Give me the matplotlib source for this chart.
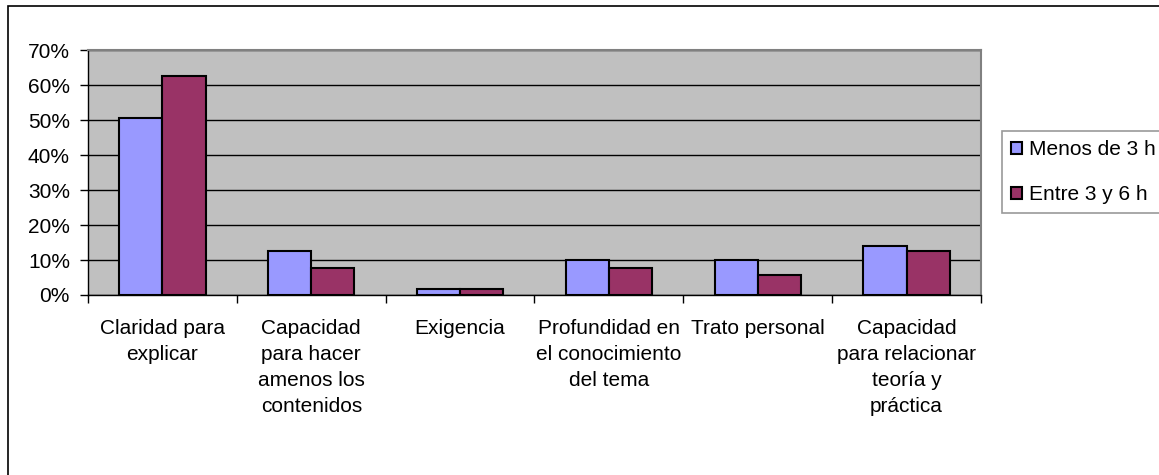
import matplotlib.pyplot as plt
from matplotlib.patches import Patch, Rectangle
from matplotlib.ticker import PercentFormatter, MultipleLocator
import numpy as np

plt.rcParams['font.family'] = ['Liberation Sans', 'DejaVu Sans']
fs = 15

# Data
categorias = [
    "Claridad para\nexplicar",
    "Capacidad\npara hacer\namenos los\ncontenidos",
    "Exigencia",
    "Profundidad en\nel conocimiento\ndel tema",
    "Trato personal",
    "Capacidad\npara relacionar\nteoría y\npráctica",
]
series = ["Menos de 3 h", "Entre 3 y 6 h"]
menos_3h = [0.506, 0.127, 0.018, 0.101, 0.101, 0.139]
entre_3_6h = [0.627, 0.076, 0.018, 0.076, 0.057, 0.127]

col_blue = '#9999FF'
col_red = '#993366'

fig = plt.figure(figsize=(11.59, 4.75), dpi=100)
ax = fig.add_axes([88 / 1159, 1 - 295 / 475, (981 - 88) / 1159, (295 - 50.5) / 475])

# frame around the chart (only top and left visible in the picture)
fig.patches.append(Rectangle((8 / 1159, -0.05), 1.2, 1 - 6 / 475 + 0.05,
                             transform=fig.transFigure, fill=False,
                             edgecolor='black', linewidth=1.2))

x = np.arange(len(categorias))
w = 0.29
ax.bar(x - w / 2, menos_3h, w, color=col_blue, edgecolor='black', linewidth=1.5, zorder=3)
ax.bar(x + w / 2, entre_3_6h, w, color=col_red, edgecolor='black', linewidth=1.5, zorder=3)

ax.set_facecolor('#C0C0C0')
ax.set_xlim(-0.5, len(categorias) - 0.5)
ax.set_ylim(0, 0.7)
ax.yaxis.set_major_locator(MultipleLocator(0.1))
ax.yaxis.set_major_formatter(PercentFormatter(1, decimals=0))
ax.grid(axis='y', color='black', linewidth=1, zorder=1)

ax.set_xticks(x)
ax.set_xticklabels(categorias, fontsize=fs, linespacing=1.47, va='top')
ax.set_xticks(np.arange(-0.5, len(categorias)), minor=True)
ax.tick_params(axis='x', which='major', length=0, pad=17)
ax.tick_params(axis='x', which='minor', length=6, width=1, direction='out')
ax.tick_params(axis='y', labelsize=fs, length=6, width=1, pad=7, direction='out')

for s in ['top', 'right']:
    ax.spines[s].set_color('#808080')
    ax.spines[s].set_linewidth(1.5)
for s in ['left', 'bottom']:
    ax.spines[s].set_color('black')
    ax.spines[s].set_linewidth(1)

handles = [Patch(facecolor=col_blue, edgecolor='black', linewidth=1.5),
           Patch(facecolor=col_red, edgecolor='black', linewidth=1.5)]
leg = fig.legend(handles, series, loc='center left',
                 bbox_to_anchor=(1002 / 1159, 1 - 172 / 475),
                 fontsize=fs, frameon=True, fancybox=False,
                 handlelength=0.5, handleheight=0.5, handletextpad=0.35,
                 labelspacing=1.25, borderpad=0.45, borderaxespad=0)
leg.get_frame().set_edgecolor('#808080')
leg.get_frame().set_linewidth(1.2)

fig.savefig('out.png', dpi=100)
